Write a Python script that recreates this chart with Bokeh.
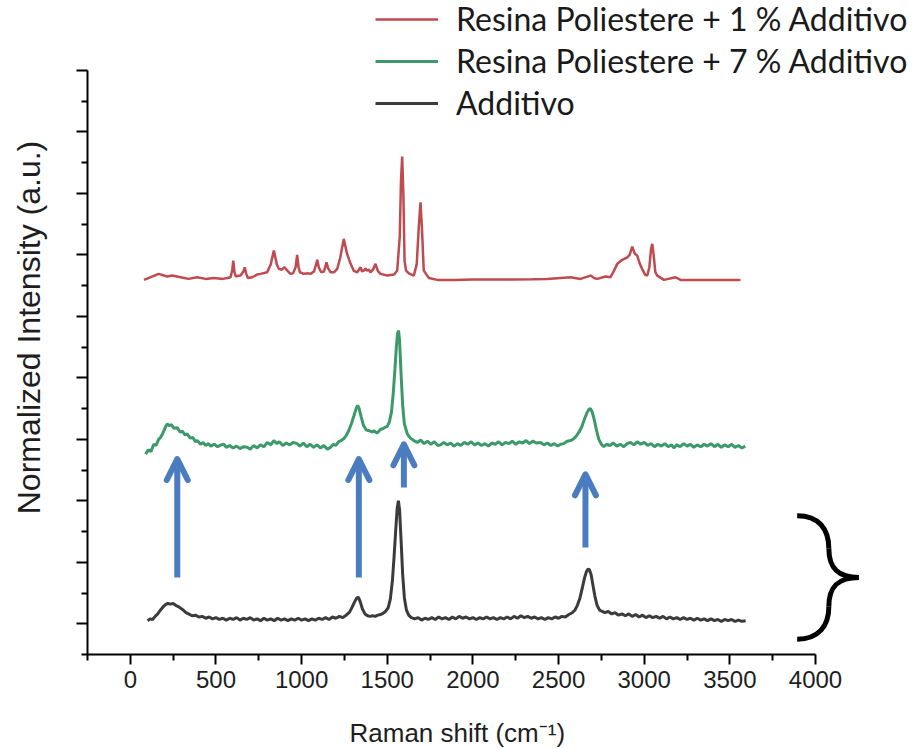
from bokeh.plotting import figure
from bokeh.models import (Range1d, FixedTicker, Legend, LegendItem, Arrow, OpenHead,
                          ColumnDataSource, Title, CustomJSTickFormatter)
from bokeh.embed import file_html
from bokeh.resources import INLINE

# ---------------- data ----------------
red_x = [80, 166, 215, 245, 293, 340, 390, 440, 487, 540, 566, 585, 595, 601, 608, 616, 630, 643,
         660, 668, 676, 686, 712, 740, 760, 799, 820, 838, 855, 867, 884, 900, 918, 935, 950, 965,
         974, 982, 990, 1013, 1030, 1052, 1072, 1085, 1091, 1100, 1114, 1130, 1138, 1145, 1155,
         1169, 1190, 1208, 1225, 1246, 1265, 1286, 1305, 1325, 1344, 1353, 1363, 1373, 1383, 1393,
         1402, 1417, 1431, 1445, 1460, 1500, 1540, 1558, 1573, 1580, 1587, 1594, 1601, 1610, 1626,
         1655, 1672, 1685, 1694, 1703, 1713, 1743, 1792, 1850, 1889, 2000, 2100, 2239, 2350, 2434,
         2570, 2628, 2687, 2710, 2726, 2774, 2803, 2823, 2843, 2872, 2901, 2915, 2930, 2945, 2959,
         2975, 2988, 3005, 3018, 3030, 3040, 3047, 3055, 3065, 3076, 3115, 3183, 3212, 3300, 3406,
         3562]
red_y = [5.594, 5.692, 5.648, 5.664, 5.637, 5.610, 5.637, 5.610, 5.624, 5.610, 5.624, 5.637, 5.75,
         5.908, 5.72, 5.650, 5.66, 5.664, 5.73, 5.799, 5.70, 5.624, 5.637, 5.68, 5.692, 5.718, 5.85,
         6.071, 5.85, 5.773, 5.76, 5.799, 5.74, 5.692, 5.70, 5.80, 6.001, 5.80, 5.718, 5.692, 5.70,
         5.692, 5.73, 5.85, 5.920, 5.80, 5.718, 5.73, 5.80, 5.881, 5.78, 5.718, 5.72, 5.773, 5.95,
         6.261, 6.02, 5.855, 5.74, 5.718, 5.799, 5.73, 5.745, 5.78, 5.745, 5.76, 5.718, 5.76, 5.855,
         5.74, 5.692, 5.664, 5.68, 5.745, 6.3, 7.2, 7.601, 7.0, 5.9, 5.745, 5.70, 5.664, 5.85, 6.5,
         6.857, 6.4, 5.745, 5.624, 5.594, 5.594, 5.594, 5.60, 5.60, 5.60, 5.605, 5.610, 5.637, 5.610,
         5.664, 5.62, 5.610, 5.650, 5.637, 5.74, 5.855, 5.92, 5.96, 6.0, 6.136, 6.02, 5.990, 5.85,
         5.773, 5.68, 5.664, 5.8, 6.1, 6.180, 6.0, 5.72, 5.664, 5.594, 5.637, 5.594, 5.594, 5.594,
         5.594]

green_x = [89, 105, 120, 137, 150, 165, 176, 190, 205, 215, 228, 240, 255, 274, 290, 305, 320, 332,
           350, 365, 380, 391, 410, 425, 440, 455, 470, 490, 510, 530, 546, 560, 580, 600, 620, 640,
           660, 682, 700, 720, 740, 760, 780, 800, 820, 838, 855, 870, 890, 910, 930, 950, 974, 990,
           1010, 1030, 1050, 1070, 1090, 1110, 1130, 1150, 1169, 1185, 1200, 1215, 1230, 1246, 1260,
           1275, 1290, 1305, 1318, 1327, 1336, 1348, 1362, 1378, 1395, 1410, 1422, 1440, 1460, 1478,
           1490, 1500, 1512, 1525, 1535, 1545, 1553, 1560, 1566, 1572, 1580, 1590, 1600, 1617, 1635,
           1655, 1675, 1695, 1715, 1735, 1755, 1775, 1795, 1811, 1830, 1850, 1870, 1890, 1910, 1930,
           1950, 1970, 1990, 2010, 2030, 2050, 2070, 2090, 2110, 2130, 2150, 2170, 2190, 2210, 2230,
           2250, 2270, 2290, 2310, 2330, 2350, 2370, 2395, 2415, 2435, 2455, 2475, 2495, 2512, 2530,
           2550, 2570, 2589, 2605, 2620, 2635, 2650, 2665, 2678, 2687, 2697, 2710, 2722, 2735, 2750,
           2764, 2780, 2800, 2820, 2840, 2860, 2881, 2900, 2920, 2940, 2959, 2980, 3000, 3020, 3040,
           3060, 3080, 3100, 3120, 3140, 3160, 3173, 3190, 3210, 3230, 3250, 3270, 3290, 3310, 3330,
           3350, 3368, 3390, 3410, 3430, 3450, 3470, 3490, 3510, 3530, 3550, 3570, 3590]
green_y = [2.76, 2.83, 2.80, 2.92, 2.90, 3.00, 3.03, 3.10, 3.20, 3.25, 3.22, 3.24, 3.18, 3.19, 3.12,
           3.13, 3.07, 3.09, 3.02, 3.03, 2.96, 2.98, 2.92, 2.95, 2.90, 2.93, 2.89, 2.92, 2.88, 2.91,
           2.92, 2.87, 2.90, 2.86, 2.89, 2.85, 2.88, 2.87, 2.84, 2.90, 2.86, 2.91, 2.88, 2.95, 2.91,
           2.98, 2.93, 2.96, 2.90, 2.94, 2.91, 2.95, 2.93, 2.89, 2.94, 2.88, 2.92, 2.87, 2.91, 2.86,
           2.90, 2.84, 2.87, 2.92, 2.90, 2.96, 2.98, 3.01, 3.06, 3.14, 3.25, 3.38, 3.50, 3.55, 3.50,
           3.36, 3.22, 3.15, 3.14, 3.12, 3.14, 3.10, 3.16, 3.18, 3.20, 3.21, 3.28, 3.45, 3.75, 4.15,
           4.50, 4.72, 4.77, 4.60, 4.10, 3.55, 3.25, 3.09, 3.02, 2.98, 2.95, 2.99, 2.93, 2.97, 2.92,
           2.96, 2.90, 2.91, 2.95, 2.91, 2.94, 2.89, 2.93, 2.90, 2.95, 2.92, 2.96, 2.91, 2.94, 2.90,
           2.93, 2.89, 2.94, 2.92, 2.96, 2.91, 2.95, 2.93, 2.97, 2.92, 2.96, 2.94, 2.98, 2.93, 2.97,
           2.94, 2.95, 2.91, 2.94, 2.90, 2.93, 2.89, 2.92, 2.93, 2.97, 2.98, 3.01, 3.06, 3.12, 3.20,
           3.32, 3.43, 3.49, 3.50, 3.44, 3.30, 3.14, 3.00, 2.92, 2.88, 2.92, 2.90, 2.94, 2.89, 2.92,
           2.88, 2.93, 2.95, 2.91, 2.96, 2.92, 2.95, 2.90, 2.93, 2.88, 2.92, 2.89, 2.93, 2.88, 2.91,
           2.86, 2.91, 2.88, 2.93, 2.89, 2.92, 2.87, 2.91, 2.88, 2.92, 2.89, 2.93, 2.88, 2.92, 2.87,
           2.91, 2.88, 2.92, 2.87, 2.90, 2.86, 2.89]

black_x = [101, 115, 130, 145, 160, 175, 190, 205, 220, 235, 250, 265, 280, 295, 310, 325, 340, 360,
           380, 400, 420, 440, 460, 480, 500, 520, 540, 560, 580, 600, 620, 640, 660, 680, 700, 720,
           740, 760, 780, 800, 820, 840, 860, 880, 900, 920, 940, 960, 980, 1000, 1020, 1040, 1060,
           1080, 1100, 1120, 1140, 1160, 1180, 1200, 1220, 1240, 1260, 1280, 1295, 1310, 1322, 1332,
           1342, 1355, 1370, 1385, 1400, 1415, 1430, 1445, 1460, 1475, 1490, 1505, 1518, 1530, 1540,
           1550, 1558, 1565, 1572, 1580, 1590, 1600, 1612, 1625, 1640, 1660, 1680, 1700, 1720, 1740,
           1760, 1780, 1800, 1820, 1840, 1860, 1880, 1900, 1920, 1940, 1960, 1980, 2000, 2020, 2040,
           2060, 2080, 2100, 2120, 2140, 2160, 2180, 2200, 2220, 2240, 2260, 2280, 2300, 2320, 2340,
           2360, 2380, 2400, 2420, 2440, 2460, 2480, 2500, 2520, 2540, 2560, 2580, 2595, 2610, 2625,
           2640, 2652, 2663, 2672, 2680, 2690, 2700, 2712, 2725, 2740, 2755, 2770, 2790, 2810, 2830,
           2850, 2870, 2890, 2910, 2930, 2950, 2970, 2990, 3010, 3030, 3050, 3070, 3090, 3110, 3130,
           3150, 3170, 3190, 3210, 3230, 3250, 3270, 3290, 3310, 3330, 3350, 3370, 3390, 3410, 3430,
           3450, 3470, 3490, 3510, 3530, 3550, 3570, 3592]
black_y = [0.05, 0.08, 0.07, 0.12, 0.16, 0.22, 0.27, 0.31, 0.33, 0.32, 0.33, 0.30, 0.28, 0.25, 0.22,
           0.18, 0.16, 0.13, 0.14, 0.11, 0.12, 0.09, 0.11, 0.08, 0.10, 0.07, 0.09, 0.06, 0.09, 0.07,
           0.10, 0.06, 0.09, 0.07, 0.10, 0.06, 0.08, 0.05, 0.09, 0.06, 0.08, 0.05, 0.09, 0.06, 0.08,
           0.05, 0.08, 0.06, 0.09, 0.06, 0.08, 0.05, 0.08, 0.06, 0.09, 0.07, 0.10, 0.07, 0.11, 0.09,
           0.12, 0.10, 0.14, 0.19, 0.27, 0.36, 0.42, 0.43, 0.36, 0.24, 0.16, 0.13, 0.12, 0.13, 0.12,
           0.14, 0.15, 0.17, 0.20, 0.26, 0.40, 0.70, 1.10, 1.55, 1.88, 2.00, 1.85, 1.40, 0.80, 0.42,
           0.22, 0.14, 0.10, 0.08, 0.10, 0.06, 0.09, 0.07, 0.10, 0.07, 0.11, 0.08, 0.10, 0.07, 0.11,
           0.08, 0.12, 0.09, 0.11, 0.08, 0.10, 0.07, 0.10, 0.08, 0.11, 0.08, 0.10, 0.07, 0.10, 0.08,
           0.11, 0.08, 0.12, 0.09, 0.13, 0.10, 0.12, 0.09, 0.11, 0.08, 0.10, 0.07, 0.10, 0.08, 0.11,
           0.09, 0.12, 0.11, 0.15, 0.18, 0.22, 0.30, 0.42, 0.60, 0.75, 0.85, 0.89, 0.88, 0.80, 0.64,
           0.45, 0.30, 0.22, 0.20, 0.18, 0.20, 0.16, 0.18, 0.14, 0.16, 0.13, 0.16, 0.12, 0.15, 0.11,
           0.14, 0.10, 0.13, 0.10, 0.12, 0.09, 0.12, 0.08, 0.11, 0.08, 0.10, 0.07, 0.10, 0.07, 0.09,
           0.06, 0.09, 0.06, 0.08, 0.05, 0.08, 0.05, 0.07, 0.04, 0.07, 0.05, 0.07, 0.04, 0.06, 0.04,
           0.05]

series_labels = ["Resina Poliestere + 1 % Additivo", "Resina Poliestere + 7 % Additivo", "Additivo"]

x_ticks = [0, 500, 1000, 1500, 2000, 2500, 3000, 3500, 4000]
x_minor = [-250, 250, 750, 1250, 1750, 2250, 2750, 3250, 3750]
y_ticks = [0, 1, 2, 3, 4, 5, 6, 7, 8, 9]
y_minor = [-0.5, 0.5, 1.5, 2.5, 3.5, 4.5, 5.5, 6.5, 7.5, 8.5]

# annotation arrows (band positions and extents, data units)
arrow_x = [274, 1334, 1597, 2657]
arrow_y0 = [0.754, 0.754, 2.218, 1.242]
arrow_y1 = [2.68, 2.68, 2.92, 2.43]

# curly brace (cubic bezier segments, data units)
brace_x0 = [3893, 4078, 4253, 4078]
brace_y0 = [1.758, 1.221, 0.754, 0.286]
brace_cx0 = [4018, 4078, 4135, 4078]
brace_cy0 = [1.758, 0.895, 0.754, -0.039]
brace_cx1 = [4078, 4135, 4078, 4018]
brace_cy1 = [1.546, 0.754, 0.612, -0.251]
brace_x1 = [4078, 4253, 4078, 3893]
brace_y1 = [1.221, 0.754, 0.286, -0.251]

# ---------------- figure ----------------
FRAME_W, FRAME_H = 829, 654
X0, X_AXIS_END = -250, 4000
x_end = X0 + FRAME_W * (X_AXIS_END - X0) / 728.0
Y0, Y_AXIS_END = -0.5, 9
y_end = Y0 + FRAME_H * (Y_AXIS_END - Y0) / 584.0

FONT = "Liberation Sans"

p = figure(frame_width=FRAME_W, frame_height=FRAME_H,
           x_range=Range1d(X0, x_end), y_range=Range1d(Y0, y_end),
           output_backend="svg", toolbar_location=None,
           min_border_left=87, min_border_right=0, min_border_top=0, min_border_bottom=60)
p.outline_line_color = None
p.xgrid.grid_line_color = None
p.ygrid.grid_line_color = None
p.background_fill_color = "white"
p.border_fill_color = "white"

RED, GREEN, BLACK, BLUE = "#bf4a4f", "#3c9a6a", "#3b3b3b", "#4a7dbf"

r_red = p.line(red_x, red_y, line_color=RED, line_width=2.5)
r_green = p.line(green_x, green_y, line_color=GREEN, line_width=3)
r_black = p.line(black_x, black_y, line_color=BLACK, line_width=3)

arrows = ColumnDataSource(dict(x0=arrow_x, y0=arrow_y0, x1=arrow_x, y1=arrow_y1))
p.add_layout(Arrow(source=arrows, x_start="x0", y_start="y0", x_end="x1", y_end="y1",
                   line_color=BLUE, line_width=6,
                   end=OpenHead(size=21, line_color=BLUE, line_width=6, line_cap="round",
                                line_join="round")))

p.bezier(x0=brace_x0, y0=brace_y0, x1=brace_x1, y1=brace_y1,
         cx0=brace_cx0, cy0=brace_cy0, cx1=brace_cx1, cy1=brace_cy1,
         line_color="black", line_width=5)

# axes
for ax in (p.xaxis[0], p.yaxis[0]):
    ax.axis_line_width = 2
    ax.axis_line_color = "black"
    ax.major_tick_line_width = 2
    ax.minor_tick_line_width = 2
    ax.major_tick_line_color = "black"
    ax.minor_tick_line_color = "black"
    ax.major_tick_in = 0
    ax.minor_tick_in = 0
    ax.axis_label_text_font = FONT
    ax.axis_label_text_font_style = "normal"
    ax.axis_label_text_color = "#1e1e1e"
    ax.major_label_text_font = FONT
    ax.major_label_text_color = "#1e1e1e"

xa = p.xaxis[0]
xa.ticker = FixedTicker(ticks=x_ticks, minor_ticks=x_minor)
xa.bounds = (X0, X_AXIS_END)
xa.major_tick_out = 10
xa.minor_tick_out = 6
xa.major_label_text_font_size = "24px"
xa.major_label_standoff = 6

ya = p.yaxis[0]
ya.ticker = FixedTicker(ticks=y_ticks, minor_ticks=y_minor)
ya.bounds = (Y0, Y_AXIS_END)
ya.major_tick_out = 11
ya.minor_tick_out = 6
ya.formatter = CustomJSTickFormatter(code="return ''")
ya.axis_label = "Normalized Intensity (a.u.)"
ya.axis_label_text_font_size = "32px"
ya.axis_label_standoff = 30

# x axis title, centred under the drawn axis (not the whole frame)
xtitle = Title(text="Raman shift (cm\u207b\u00b9)", align="left", offset=262,
               text_font=FONT, text_font_size="26px", text_font_style="normal",
               text_color="#1e1e1e", standoff=50)
p.add_layout(xtitle, "below")

legend = Legend(items=[LegendItem(label=series_labels[0], renderers=[r_red]),
                       LegendItem(label=series_labels[1], renderers=[r_green]),
                       LegendItem(label=series_labels[2], renderers=[r_black])],
                location=(288, 532), glyph_width=63, glyph_height=36, label_height=36,
                spacing=3, padding=0, margin=0, label_standoff=18,
                border_line_color=None, background_fill_alpha=0,
                label_text_font="Lato", label_text_font_size="32px", label_text_color="#1a1a1a")
p.add_layout(legend)

open("out.html", "w").write(file_html(p, INLINE))
